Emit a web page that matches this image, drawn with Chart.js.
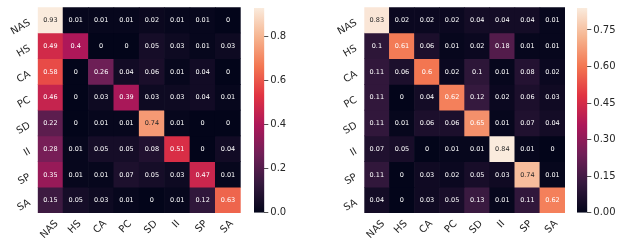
<!DOCTYPE html>
<html>
<head>
<meta charset="utf-8">
<script src="https://cdn.jsdelivr.net/npm/chart.js@4"></script>
<style>
  body { margin:0; background:#fff; width:630px; height:250px; position:relative; overflow:hidden }
  canvas { position:absolute; top:0 }
  #hm1 { left:0 }
  #cb1 { left:254px }
  #hm2 { left:320px }
  #cb2 { left:577px }
</style>
</head>
<body>
<canvas id="hm1" width="250" height="250"></canvas>
<canvas id="cb1" width="50" height="250"></canvas>
<canvas id="hm2" width="250" height="250"></canvas>
<canvas id="cb2" width="53" height="250"></canvas>
<script>
const classes = ['NAS', 'HS', 'CA', 'PC', 'SD', 'II', 'SP', 'SA']

const leftMatrix = [
  [0.93, 0.01, 0.01, 0.01, 0.02, 0.01, 0.01, 0],
  [0.49, 0.4, 0, 0, 0.05, 0.03, 0.01, 0.03],
  [0.58, 0, 0.26, 0.04, 0.06, 0.01, 0.04, 0],
  [0.46, 0, 0.03, 0.39, 0.03, 0.03, 0.04, 0.01],
  [0.22, 0, 0.01, 0.01, 0.74, 0.01, 0, 0],
  [0.28, 0.01, 0.05, 0.05, 0.08, 0.51, 0, 0.04],
  [0.35, 0.01, 0.01, 0.07, 0.05, 0.03, 0.47, 0.01],
  [0.15, 0.05, 0.03, 0.01, 0, 0.01, 0.12, 0.63]
]
const rightMatrix = [
  [0.83, 0.02, 0.02, 0.02, 0.04, 0.04, 0.04, 0.01],
  [0.1, 0.61, 0.06, 0.01, 0.02, 0.18, 0.01, 0.01],
  [0.11, 0.06, 0.6, 0.02, 0.1, 0.01, 0.08, 0.02],
  [0.11, 0, 0.04, 0.62, 0.12, 0.02, 0.06, 0.03],
  [0.11, 0.01, 0.06, 0.06, 0.65, 0.01, 0.07, 0.04],
  [0.07, 0.05, 0, 0.01, 0.01, 0.84, 0.01, 0],
  [0.11, 0, 0.03, 0.02, 0.05, 0.03, 0.74, 0.01],
  [0.04, 0, 0.03, 0.05, 0.13, 0.01, 0.11, 0.62]
]
const leftMax = 0.93
const rightMax = 0.84
const leftBarTicks = [0, 0.2, 0.4, 0.6, 0.8]
const rightBarTicks = [0, 0.15, 0.3, 0.45, 0.6, 0.75]

// seaborn "rocket", sampled
const rocket = [
  [0, '#03051a'], [1/7, '#35193e'], [2/7, '#701f57'], [3/7, '#ad1759'],
  [4/7, '#e13342'], [5/7, '#f37651'], [6/7, '#f6b48f'], [1, '#faebdd']
]
const FONT = '"DejaVu Sans", sans-serif'
const TEXT = '#262626'

function hex(h){ return [1,3,5].map(i => parseInt(h.slice(i, i+2), 16)) }

function rocketRGB(t){
  t = Math.max(0, Math.min(1, t))
  for(let k = 1; k < rocket.length; k++){
    if(t <= rocket[k][0]){
      const [p0, c0] = rocket[k-1], [p1, c1] = rocket[k]
      const f = (t - p0) / (p1 - p0)
      const a = hex(c0), b = hex(c1)
      return a.map((v, i) => Math.round(v + (b[i] - v) * f))
    }
  }
  return hex(rocket[rocket.length-1][1])
}

function luminance(rgb){
  const c = rgb.map(v => { v /= 255; return v <= 0.03928 ? v / 12.92 : Math.pow((v + 0.055) / 1.055, 2.4) })
  return 0.2126*c[0] + 0.7152*c[1] + 0.0722*c[2]
}

function fmt(v){ return String(Number(v.toPrecision(2))) }

// cell text + rotated tick labels
const heatLabels = {
  id: 'heatLabels',
  afterDatasetsDraw(chart, args, opts){
    const ctx = chart.ctx
    ctx.save()
    ctx.font = '6.5px ' + FONT
    ctx.textAlign = 'center'
    ctx.textBaseline = 'middle'
    chart.data.datasets.forEach((ds, i) => {
      chart.getDatasetMeta(i).data.forEach((bar, j) => {
        const v = opts.matrix[i][j]
        const rgb = rocketRGB(v / opts.vmax)
        ctx.fillStyle = luminance(rgb) > 0.408 ? TEXT : '#fff'
        ctx.fillText(fmt(v), bar.x, (bar.y + bar.base) / 2 + 0.5)
      })
    })

    const xs = chart.scales.x, ys = chart.scales.y, area = chart.chartArea
    ctx.font = '10px ' + FONT
    ctx.fillStyle = TEXT
    classes.forEach((lab, i) => {
      ctx.save()
      ctx.translate(area.left - 8, ys.getPixelForValue(i + 0.5) + 2)
      ctx.rotate(-Math.PI / 6)
      ctx.textAlign = 'right'
      ctx.fillText(lab, 0, 0)
      ctx.restore()
    })
    classes.forEach((lab, j) => {
      const w = ctx.measureText(lab).width
      const h = 9
      const bh = (w + h) * Math.SQRT1_2
      ctx.save()
      ctx.translate(xs.getPixelForValue(j) - 1, area.bottom + 6 + bh / 2)
      ctx.rotate(-Math.PI / 4)
      ctx.textAlign = 'center'
      ctx.fillText(lab, 0, 0)
      ctx.restore()
    })
    ctx.restore()
  }
}

function heatmap(id, matrix, vmax, padLeft, padRight){
  return new Chart(document.getElementById(id), {
    type: 'bar',
    data: {
      labels: classes,
      datasets: matrix.map((row, i) => ({
        data: row.map(() => [i, i + 1]),
        backgroundColor: row.map(v => 'rgb(' + rocketRGB(v / vmax).join(',') + ')'),
        borderWidth: 0,
        barPercentage: 1,
        categoryPercentage: 1,
        grouped: false
      }))
    },
    options: {
      responsive: false,
      animation: false,
      devicePixelRatio: 1,
      layout: { padding: { left: padLeft, right: padRight, top: 7.3, bottom: 37 } },
      plugins: {
        legend: { display: false },
        tooltip: { enabled: false },
        heatLabels: { matrix: matrix, vmax: vmax }
      },
      scales: {
        x: { display: false },
        y: { display: false, min: 0, max: 8, reverse: true }
      }
    },
    plugins: [heatLabels]
  })
}

function colorbar(id, vmax, ticks, decimals, axisWidth){
  return new Chart(document.getElementById(id), {
    type: 'bar',
    data: {
      labels: [''],
      datasets: [{
        data: [[0, vmax]],
        backgroundColor: c => {
          const a = c.chart.chartArea
          if(!a) return rocket[0][1]
          const g = c.chart.ctx.createLinearGradient(0, a.bottom, 0, a.top)
          rocket.forEach(([p, col]) => g.addColorStop(p, col))
          return g
        },
        borderWidth: 0,
        barPercentage: 1,
        categoryPercentage: 1
      }]
    },
    options: {
      responsive: false,
      animation: false,
      devicePixelRatio: 1,
      layout: { padding: { left: 0, right: 0, top: 7.3, bottom: 37.3 } },
      plugins: { legend: { display: false }, tooltip: { enabled: false } },
      scales: {
        x: { display: false },
        y: {
          position: 'right',
          min: 0,
          max: vmax,
          afterBuildTicks: s => { s.ticks = ticks.map(v => ({value: v})) },
          afterFit: s => { s.width = axisWidth },
          grid: { drawOnChartArea: false, drawTicks: true, tickLength: 4, color: TEXT, lineWidth: 0.8 },
          border: { display: false },
          ticks: {
            padding: 2,
            color: TEXT,
            font: { family: FONT, size: 10 },
            callback: v => v.toFixed(decimals)
          }
        }
      }
    }
  })
}

heatmap('hm1', leftMatrix, leftMax, 37.7, 9.3)
colorbar('cb1', leftMax, leftBarTicks, 1, 39.7)
heatmap('hm2', rightMatrix, rightMax, 44.3, 5)
colorbar('cb2', rightMax, rightBarTicks, 2, 42.7)
</script>
</body>
</html>
